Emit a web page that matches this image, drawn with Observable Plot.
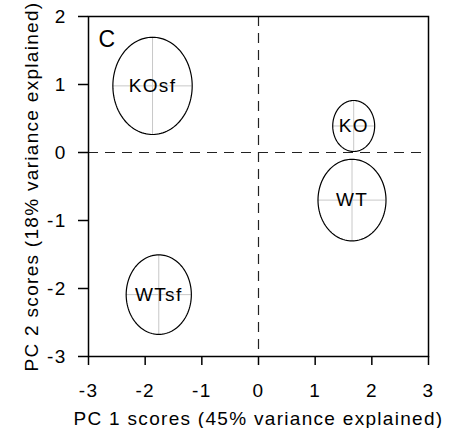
<!DOCTYPE html>
<html>
<head>
<meta charset="utf-8">
<script src="https://cdn.jsdelivr.net/npm/d3@7"></script>
<script src="https://cdn.jsdelivr.net/npm/@observablehq/plot@0.6"></script>
<style>
  body { margin: 0; background: #fff; }
  svg { font-family: "Liberation Sans", Arial, sans-serif; }
  svg text { letter-spacing: 1.3px; fill: black; }
</style>
</head>
<body>
<div id="chart"></div>
<script>
const groups = ["KOsf", "KO", "WT", "WTsf"];
const centerX = [-1.87, 1.68, 1.65, -1.76];
const centerY = [0.98, 0.39, -0.70, -2.09];
const radiusX = [0.70, 0.37, 0.60, 0.575];
const radiusY = [0.715, 0.375, 0.60, 0.585];
const xTicks = [-3, -2, -1, 0, 1, 2, 3];
const yTicks = [-3, -2, -1, 0, 1, 2];
const panelLabel = "C";

const table = groups.map((g, i) => ({g, cx: centerX[i], cy: centerY[i], rx: radiusX[i], ry: radiusY[i]}));
const outline = table.flatMap(d => d3.range(0, 121).map(k => {
  const t = (k / 120) * 2 * Math.PI;
  return {g: d.g, x: d.cx + d.rx * Math.cos(t), y: d.cy + d.ry * Math.sin(t)};
}));

const chart = Plot.plot({
  width: 451,
  height: 428,
  marginLeft: 88,
  marginRight: 23,
  marginTop: 16,
  marginBottom: 72,
  style: {fontFamily: "'Liberation Sans', Arial, sans-serif", fontSize: "18px", color: "black", background: "white"},
  x: {domain: [-3, 3]},
  y: {domain: [-3, 2]},
  marks: [
    Plot.ruleX([0], {stroke: "#222", strokeWidth: 1.2, strokeDasharray: "10,7"}),
    Plot.ruleY([0], {stroke: "#222", strokeWidth: 1.2, strokeDasharray: "10,7"}),
    Plot.ruleX(table, {x: "cx", y1: d => d.cy - d.ry, y2: d => d.cy + d.ry, stroke: "#c8c8c8", strokeWidth: 1}),
    Plot.ruleY(table, {y: "cy", x1: d => d.cx - d.rx, x2: d => d.cx + d.rx, stroke: "#c8c8c8", strokeWidth: 1}),
    Plot.line(outline, {x: "x", y: "y", z: "g", stroke: "black", strokeWidth: 1.2}),
    Plot.text(table, {x: "cx", y: "cy", text: "g", fontSize: 19, fill: "black"}),
    Plot.text([panelLabel], {frameAnchor: "top-left", dx: 10, dy: 14, fontSize: 23, fill: "black", text: d => d}),
    Plot.axisX({ticks: xTicks, tickFormat: d => String(d), tickSize: 9, tickPadding: 18, fontSize: 19, stroke: "black", strokeWidth: 1.5,
      label: "PC 1 scores (45% variance explained)", labelAnchor: "center", labelArrow: "none", labelOffset: 68}),
    Plot.axisY({ticks: yTicks, tickFormat: d => String(d), tickSize: 10, tickPadding: 12, fontSize: 19, stroke: "black", strokeWidth: 1.5,
      label: "PC 2 scores (18% variance explained)", labelAnchor: "center", labelArrow: "none", labelOffset: 64}),
    Plot.frame({stroke: "black", strokeWidth: 1.5})
  ]
});
document.getElementById("chart").appendChild(chart);
</script>
</body>
</html>
